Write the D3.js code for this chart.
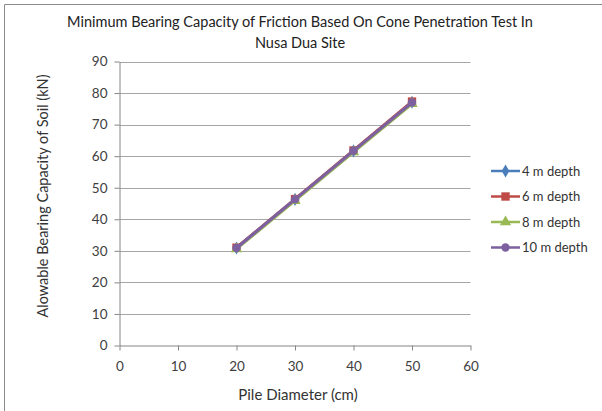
<!DOCTYPE html>
<html>
<head>
<meta charset="utf-8">
<script src="https://cdn.jsdelivr.net/npm/d3@7"></script>
<style>
  html, body { margin: 0; padding: 0; background: #fff; }
  svg { display: block; }
</style>
</head>
<body>
<svg id="chart" width="602" height="411"></svg>
<script>
// Pile diameters (cm) and allowable bearing capacity (kN) per depth
const diameters = [20, 30, 40, 50];
const seriesNames = ["4 m depth", "6 m depth", "8 m depth", "10 m depth"];
const depth4 = [30.9, 46.3, 61.7, 77.1];
const depth6 = [31.0, 46.4, 61.8, 77.3];
const depth8 = [30.6, 45.9, 61.3, 76.6];
const depth10 = [30.9, 46.3, 61.7, 77.0];
const xTicks = [0, 10, 20, 30, 40, 50, 60];
const yTicks = [0, 10, 20, 30, 40, 50, 60, 70, 80, 90];

const seriesValues = [depth4, depth6, depth8, depth10];
const colors = ["#4A7EBB", "#BE4B48", "#98B954", "#7D60A0"];
const markers = [d3.symbolDiamond, d3.symbolSquare, d3.symbolTriangle, d3.symbolCircle];
const markerSizes = [50, 70, 55, 55];

const font = "Lato, 'Open Sans', sans-serif";
const svg = d3.select("#chart");

// Outer frame (top and left edges)
svg.append("path")
  .attr("d", "M4.5,411 L4.5,4.5 L602,4.5")
  .attr("fill", "none").attr("stroke", "#8c8c8c").attr("stroke-width", 1);

const x = d3.scaleLinear().domain([0, 60]).range([119.5, 470.5]);
const y = d3.scaleLinear().domain([0, 90]).range([345.5, 61.5]);

// Horizontal gridlines
svg.append("g").selectAll("line").data(yTicks.filter(v => v > 0)).join("line")
  .attr("x1", x(0)).attr("x2", x(60))
  .attr("y1", d => Math.round(y(d)) + 0.5).attr("y2", d => Math.round(y(d)) + 0.5)
  .attr("stroke", "#a6a6a6").attr("stroke-width", 1);

// Axes
const yAxis = svg.append("g").attr("transform", `translate(${x(0)},0)`)
  .call(d3.axisLeft(y).tickValues(yTicks).tickSize(5).tickPadding(7).tickSizeOuter(0));
const xAxis = svg.append("g").attr("transform", `translate(0,${y(0)})`)
  .call(d3.axisBottom(x).tickValues(xTicks).tickSize(5).tickPadding(11).tickSizeOuter(0));
[yAxis, xAxis].forEach(ax => {
  ax.select(".domain").attr("stroke", "#868686");
  ax.selectAll(".tick line").attr("stroke", "#868686");
  ax.selectAll(".tick text").attr("fill", "#404040")
    .style("font-family", font).style("font-size", "13.5px");
});

// Series lines and markers
const line = d3.line().x((d, i) => x(diameters[i])).y(d => y(d));
seriesValues.forEach((vals, si) => {
  const g = svg.append("g");
  g.append("path").datum(vals)
    .attr("d", line).attr("fill", "none")
    .attr("stroke", colors[si]).attr("stroke-width", 3)
    .attr("stroke-linejoin", "round");
  g.selectAll("path.m").data(vals).join("path").attr("class", "m")
    .attr("transform", (d, i) => `translate(${x(diameters[i])},${y(d)})`)
    .attr("d", d3.symbol().type(markers[si]).size(markerSizes[si]))
    .attr("fill", colors[si]);
});

// Title
svg.append("text").attr("x", 300).attr("y", 27).attr("text-anchor", "middle")
  .style("font-family", font).style("font-size", "14.5px").attr("fill", "#222")
  .text("Minimum Bearing Capacity of Friction Based On Cone Penetration Test In");
svg.append("text").attr("x", 300).attr("y", 48).attr("text-anchor", "middle")
  .style("font-family", font).style("font-size", "14.5px").attr("fill", "#222")
  .text("Nusa Dua Site");

// Axis titles
svg.append("text").attr("x", 298).attr("y", 400).attr("text-anchor", "middle")
  .style("font-family", font).style("font-size", "15px").attr("fill", "#333")
  .text("Pile Diameter (cm)");
svg.append("text").attr("transform", "translate(48,196) rotate(-90)")
  .attr("text-anchor", "middle")
  .style("font-family", font).style("font-size", "14.5px").attr("fill", "#333")
  .text("Alowable Bearing Capacity of Soil (kN)");

// Legend
const legend = svg.append("g");
seriesNames.forEach((name, i) => {
  const ly = 171 + i * 25.5;
  legend.append("line").attr("x1", 491).attr("x2", 520).attr("y1", ly).attr("y2", ly)
    .attr("stroke", colors[i]).attr("stroke-width", 2.5);
  legend.append("path").attr("transform", `translate(505.5,${ly})`)
    .attr("d", d3.symbol().type(markers[i]).size(markerSizes[i])).attr("fill", colors[i]);
  legend.append("text").attr("x", 522).attr("y", ly + 4.5)
    .style("font-family", font).style("font-size", "13px").attr("fill", "#333")
    .text(name);
});
</script>
</body>
</html>
